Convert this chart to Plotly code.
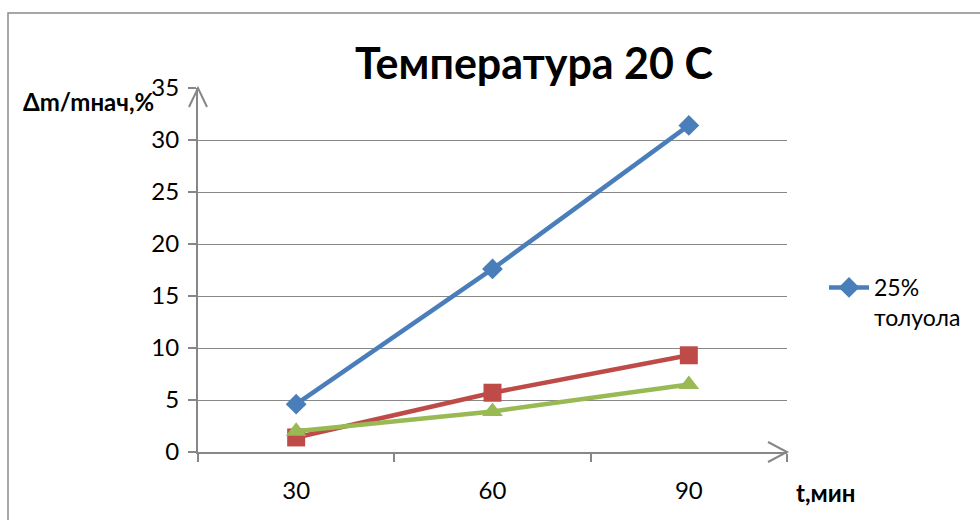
import plotly.graph_objects as go

categories = ["30", "60", "90"]
blue_vals = [4.6, 17.6, 31.4]
red_vals = [1.4, 5.7, 9.3]
green_vals = [2.0, 3.9, 6.5]
y_ticks = [0, 5, 10, 15, 20, 25, 30, 35]

FONT = "Lato, 'Open Sans', sans-serif"
GRAY = "#878787"

W, H = 980, 520
L, R, T, B = 198, 787, 88, 452

def px(x):
    return (x - L) / (R - L)

def py(y):
    return (B - y) / (B - T)

fig = go.Figure()
fig.add_trace(go.Scatter(
    x=categories, y=blue_vals, mode="lines+markers", name="25%<br>толуола",
    line=dict(color="#4A7EBB", width=4.5),
    marker=dict(symbol="diamond", size=16, color="#4A7EBB"),
))
fig.add_trace(go.Scatter(
    x=categories, y=red_vals, mode="lines+markers", name="red", showlegend=False,
    line=dict(color="#BE4B48", width=4.5),
    marker=dict(symbol="square", size=18, color="#BE4B48"),
))
fig.add_trace(go.Scatter(
    x=categories, y=green_vals, mode="lines+markers", name="green", showlegend=False,
    line=dict(color="#98B954", width=4.5),
    marker=dict(symbol="triangle-up", size=18, color="#98B954"),
))

shapes = [
    dict(type="rect", xref="paper", yref="paper", x0=px(8), x1=px(990), y0=py(530), y1=py(13),
         line=dict(color="#8a8a8a", width=1.5), layer="below"),
    dict(type="path", xref="paper", yref="paper",
         path=f"M {px(189)} {py(107)} L {px(198)} {py(88)} L {px(207)} {py(107)}",
         line=dict(color=GRAY, width=2)),
    dict(type="path", xref="paper", yref="paper",
         path=f"M {px(768)} {py(442)} L {px(787)} {py(452)} L {px(768)} {py(462)}",
         line=dict(color=GRAY, width=2)),
]

annotations = [
    dict(text="<b>Температура 20 C</b>", xref="paper", yref="paper", x=px(534), y=py(62),
         xanchor="center", yanchor="middle", showarrow=False,
         font=dict(family=FONT, size=43, color="black")),
    dict(text="<b>Δm/mнач,%</b>", xref="paper", yref="paper", x=px(21), y=py(101),
         xanchor="left", yanchor="middle", showarrow=False,
         font=dict(family=FONT, size=24, color="black")),
    dict(text="<b>t,мин</b>", xref="paper", yref="paper", x=px(794), y=py(492),
         xanchor="left", yanchor="middle", showarrow=False,
         font=dict(family=FONT, size=24, color="black")),
]

fig.update_layout(
    width=W, height=H,
    margin=dict(l=L, r=W - R, t=T, b=H - B, pad=0),
    paper_bgcolor="white", plot_bgcolor="white",
    font=dict(family=FONT, size=24, color="black"),
    showlegend=True,
    legend=dict(x=px(824), y=py(266), xanchor="left", yanchor="top",
                valign="top", font=dict(family=FONT, size=23, color="black"),
                bgcolor="rgba(0,0,0,0)", itemwidth=40),
    shapes=shapes,
    annotations=annotations,
    xaxis=dict(type="category", range=[-0.5, 2.5], tickson="boundaries",
               ticks="outside", ticklen=8, tickcolor=GRAY, tickwidth=1.5,
               showline=True, linecolor=GRAY, linewidth=2, showgrid=False,
               zeroline=False, ticklabelstandoff=16, fixedrange=True,
               tickfont=dict(size=24)),
    yaxis=dict(range=[0, 35], tickvals=y_ticks, ticks="outside", ticklen=8,
               tickcolor=GRAY, tickwidth=1.5, showline=True, linecolor=GRAY,
               linewidth=2, showgrid=True, gridcolor=GRAY, gridwidth=1.3,
               zeroline=False, ticklabelstandoff=4, fixedrange=True,
               tickfont=dict(size=24)),
)

fig.write_html("out.html")
